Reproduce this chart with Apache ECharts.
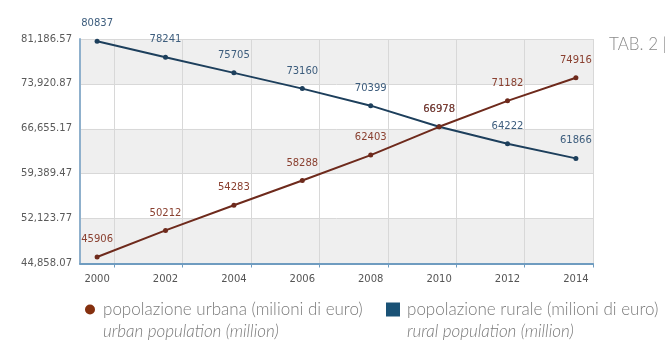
<!DOCTYPE html>
<html>
<head>
<meta charset="utf-8">
<script src="https://cdn.jsdelivr.net/npm/echarts@6/dist/echarts.min.js"></script>
<style>
html,body{margin:0;padding:0;background:#fff;}
#c{width:669px;height:342px;}
</style>
</head>
<body>
<div id="c"></div>
<script>
const years = ['2000','2001','2002','2003','2004','2005','2006','2007','2008','2009','2010','2011','2012','2013','2014'];
const dataYears = ['2000','2002','2004','2006','2008','2010','2012','2014'];
const urban = [45906, 50212, 54283, 58288, 62403, 66978, 71182, 74916];
const rural = [80837, 78241, 75705, 73160, 70399, 66978, 64222, 61866];
const yTicks = [44858.07, 52123.77, 59389.47, 66655.17, 73920.87, 81186.57];
const yTickLabels = ['44,858.07', '52,123.77', '59,389.47', '66,655.17', '73,920.87', '81,186.57'];
const urbanName = 'popolazione urbana (milioni di euro)';
const ruralName = 'popolazione rurale (milioni di euro)';
const urbanSub = 'urban population (million)';
const ruralSub = 'rural population (million)';

const chart = echarts.init(document.getElementById('c'));
const legendFont = 'Lato';
const tickFont = 'DejaVu Sans';
chart.setOption({
  animation: false,
  backgroundColor: '#fff',
  title: {
    text: 'TAB. 2 |', left: 609, top: 36, padding: 0,
    textStyle: { fontFamily: legendFont, fontWeight: 300, fontSize: 17, color: '#8a8a8a' }
  },
  grid: { left: 80, right: 76, top: 39, bottom: 78.5 },
  legend: [
    { data: [urbanName], left: 85, top: 301, padding: 0, icon: 'circle', itemWidth: 10, itemHeight: 10, itemGap: 0,
      itemStyle: { color: '#85300f' },
      textStyle: { fontFamily: legendFont, fontWeight: 300, fontSize: 17, color: '#7a7a7a', padding: [0,0,0,3] } },
    { data: [ruralName], left: 386, top: 301, padding: 0, icon: 'rect', itemWidth: 14, itemHeight: 14, itemGap: 0,
      itemStyle: { color: '#1a5276' },
      textStyle: { fontFamily: legendFont, fontWeight: 300, fontSize: 17, color: '#7a7a7a', padding: [0,0,0,2] } }
  ],
  graphic: [
    { type: 'text', left: 103, top: 323, style: { text: urbanSub, font: 'italic 300 17px Lato', fill: '#7a7a7a' } },
    { type: 'text', left: 407, top: 323, style: { text: ruralSub, font: 'italic 300 17px Lato', fill: '#7a7a7a' } }
  ],
  xAxis: {
    type: 'category', data: years, boundaryGap: true,
    axisLine: { lineStyle: { color: '#6f9cc0', width: 2 } },
    axisTick: { show: true, length: 4, interval: function (i) { return i % 2 === 1; }, lineStyle: { color: '#6f9cc0' } },
    axisLabel: { interval: function (i) { return i % 2 === 0; }, color: '#555', fontSize: 10, fontFamily: tickFont, margin: 11 },
    splitLine: { show: true, interval: function (i) { return i % 2 === 1; }, lineStyle: { color: '#d8d8d8' } }
  },
  yAxis: {
    type: 'value', min: yTicks[0], max: yTicks[yTicks.length - 1], interval: yTicks[1] - yTicks[0],
    axisLine: { show: true, lineStyle: { color: '#8fb0cc', width: 2 } },
    axisTick: { show: false },
    axisLabel: { color: '#5a5a5a', fontSize: 10, fontFamily: tickFont, margin: 8,
      formatter: function (v, i) { return yTickLabels[i] !== undefined ? yTickLabels[i] : v; } },
    splitLine: { show: true, lineStyle: { color: '#d8d8d8' } },
    splitArea: { show: true, areaStyle: { color: ['#efefef', '#ffffff'] } }
  },
  series: [
    { name: urbanName, type: 'line', data: dataYears.map((y, i) => [y, urban[i]]),
      symbol: 'circle', symbolSize: 5,
      itemStyle: { color: '#6e2a1c' }, lineStyle: { color: '#6e2a1c', width: 2 },
      label: { show: true, position: 'top', distance: 10, color: '#8a4030', fontSize: 10, fontFamily: tickFont },
      z: 3
    },
    { name: ruralName, type: 'line', data: dataYears.map((y, i) => [y, rural[i]]),
      symbol: 'circle', symbolSize: 5,
      itemStyle: { color: '#1d3f5c' }, lineStyle: { color: '#1d3f5c', width: 2 },
      label: { show: true, position: 'top', distance: 10, color: '#3d5d7d', fontSize: 10, fontFamily: tickFont },
      z: 2
    }
  ]
});
</script>
</body>
</html>
